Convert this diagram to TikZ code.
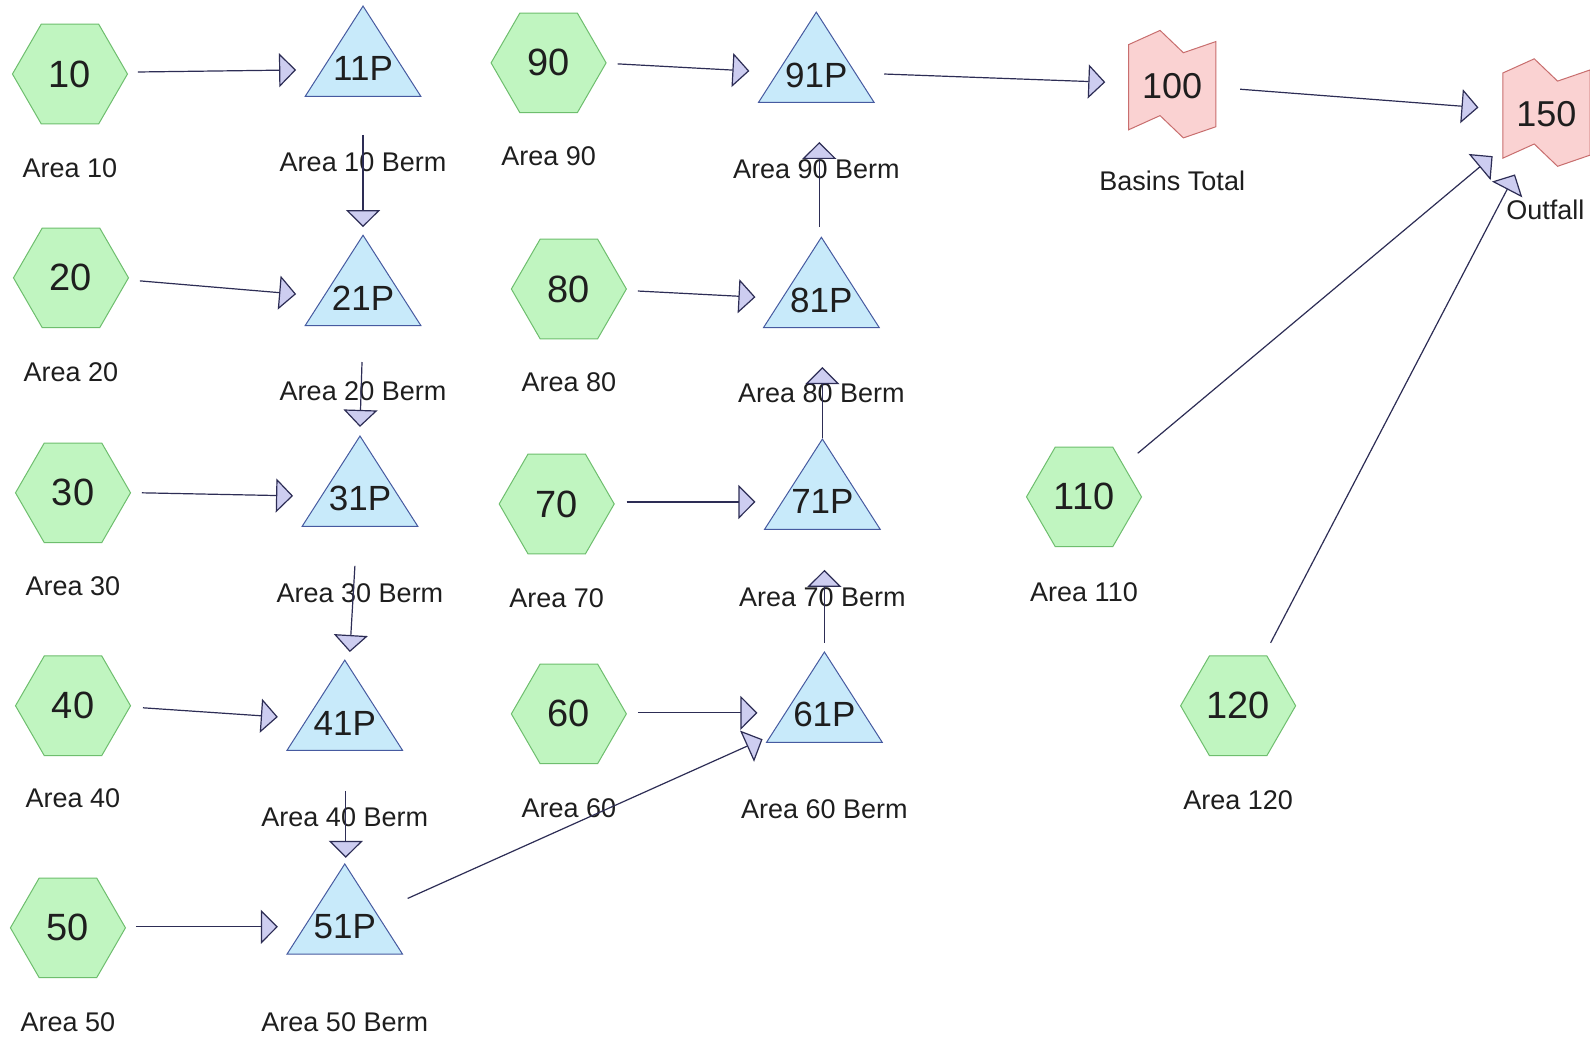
\documentclass[tikz,border=0pt]{standalone}
\usepackage{fontspec}
\setmainfont{Liberation Sans}
\usetikzlibrary{shapes.geometric,arrows.meta,calc,backgrounds}
\definecolor{hexfill}{RGB}{192,245,192}
\definecolor{hexdraw}{RGB}{110,190,110}
\definecolor{trifill}{RGB}{200,234,250}
\definecolor{tridraw}{RGB}{70,90,160}
\definecolor{flagfill}{RGB}{250,210,210}
\definecolor{flagdraw}{RGB}{200,110,110}
\definecolor{linecol}{RGB}{45,45,85}
\definecolor{headfill}{RGB}{205,205,240}
\definecolor{txtcol}{RGB}{30,30,30}
\tikzset{
  hexnode/.style={regular polygon, regular polygon sides=6, minimum size=115pt, inner sep=0pt,
    draw=hexdraw, fill=hexfill, line width=1pt, text=txtcol, font=\fontsize{38}{40}\selectfont},
  numtxt/.style={inner sep=0pt, text=txtcol, font=\fontsize{35}{38}\selectfont},
  lbl/.style={inner sep=0pt, text=txtcol, font=\fontsize{27}{30}\selectfont},
  trishape/.style={draw=tridraw, fill=trifill, line width=1pt, line join=miter},
  flagshape/.style={draw=flagdraw, fill=flagfill, line width=1pt},
  flow/.style={draw=linecol, line width=1.2pt, -{Triangle[length=17pt, width=34pt, fill=headfill]}}
}
\begin{document}
\begin{tikzpicture}[x=1.014pt, y=-1.014pt]
\useasboundingbox (0,0) rectangle (1568,1024);
% hexagon nodes
\node[hexnode] (h10) at (69,73) {10};
\node[hexnode] (h20) at (70,274) {20};
\node[hexnode] (h30) at (72,486) {30};
\node[hexnode] (h40) at (72,696) {40};
\node[hexnode] (h50) at (67,915) {50};
\node[hexnode] (h90) at (541,62) {90};
\node[hexnode] (h80) at (561,285) {80};
\node[hexnode] (h70) at (549,497) {70};
\node[hexnode] (h60) at (561,704) {60};
\node[hexnode] (h110) at (1069,490) {110};
\node[hexnode] (h120) at (1221,696) {120};
% triangle (pond) nodes
\node[numtxt] (t11) at (358,68) {11P};
\node[numtxt] (t21) at (358,294) {21P};
\node[numtxt] (t31) at (355,492) {31P};
\node[numtxt] (t41) at (340,713) {41P};
\node[numtxt] (t51) at (340,914) {51P};
\node[numtxt] (t91) at (805,74) {91P};
\node[numtxt] (t81) at (810,296) {81P};
\node[numtxt] (t71) at (811,495) {71P};
\node[numtxt] (t61) at (813,705) {61P};
% flag (link) nodes
\node[numtxt, font=\fontsize{36}{38}\selectfont] (f100) at (1156,85) {100};
\node[numtxt, font=\fontsize{36}{38}\selectfont] (f150) at (1525,113) {150};
% shapes behind the texts
\begin{scope}[on background layer]
\fill[white] (0,0) rectangle (1568,1024);
\foreach \t in {t11,t21,t31,t41,t51,t91,t81,t71,t61}{
  \filldraw[trishape] ($(\t)+(0,-62)$) -- ($(\t)+(57,27)$) -- ($(\t)+(-57,27)$) -- cycle;
}
\foreach \f in {f100,f150}{
  \filldraw[flagshape] ($(\f)+(-43,-41)$) -- ++(31,-14) -- ++(23,22) -- ++(32,-11) -- ++(0,84)
    -- ++(-32,11) -- ++(-23,-22) -- ++(-31,14) -- cycle;
}
\end{scope}
% labels
\node[lbl] (l10) at (69,166) {Area 10};
\node[lbl] (l20) at (70,367) {Area 20};
\node[lbl] (l30) at (72,578) {Area 30};
\node[lbl] (l40) at (72,787) {Area 40};
\node[lbl] (l50) at (67,1008) {Area 50};
\node[lbl] (l90) at (541,154) {Area 90};
\node[lbl] (l80) at (561,377) {Area 80};
\node[lbl] (l70) at (549,590) {Area 70};
\node[lbl] (l60) at (561,797) {Area 60};
\node[lbl] (l110) at (1069,584) {Area 110};
\node[lbl] (l120) at (1221,789) {Area 120};
\node[lbl] (b10) at (358,160) {Area 10 Berm};
\node[lbl] (b20) at (358,386) {Area 20 Berm};
\node[lbl] (b30) at (355,585) {Area 30 Berm};
\node[lbl] (b40) at (340,806) {Area 40 Berm};
\node[lbl] (b50) at (340,1008) {Area 50 Berm};
\node[lbl] (b90) at (805,167) {Area 90 Berm};
\node[lbl] (b80) at (810,388) {Area 80 Berm};
\node[lbl] (b70) at (811,589) {Area 70 Berm};
\node[lbl] (b60) at (813,798) {Area 60 Berm};
\node[lbl] (lb100) at (1156,178) {Basins Total};
\node[lbl] (lb150) at (1524,207) {Outfall};
% connectors
\draw[flow] ($(h10)+(67,-2)$) -- ($(t11)+(-66,1)$);
\draw[flow] ($(h20)+(68,3)$) -- ($(t21)+(-66,-4)$);
\draw[flow] ($(h30)+(68,0)$) -- ($(t31)+(-66,-3)$);
\draw[flow] ($(h40)+(69,2)$) -- ($(t41)+(-66,-6)$);
\draw[flow] ($(h50)+(67,-1)$) -- ($(t51)+(-66,0)$);
\draw[flow] ($(h90)+(68,1)$) -- ($(t91)+(-66,-4)$);
\draw[flow] ($(h80)+(68,2)$) -- ($(t81)+(-65,-3)$);
\draw[flow] ($(h70)+(69,-2)$) -- ($(t71)+(-66,0)$);
\draw[flow] ($(h60)+(68,-1)$) -- ($(t61)+(-66,-2)$);
\draw[flow] ($(t51)+(62,-28)$) -- ($(t61)+(-61,24)$);
\draw[flow] ($(t11)+(0,65)$) -- ($(t21)+(0,-70)$);
\draw[flow] ($(t21)+(-1,63)$) -- ($(t31)+(0,-71)$);
\draw[flow] ($(t31)+(-5,66)$) -- ($(t41)+(5,-70)$);
\draw[flow] ($(t41)+(1,67)$) -- ($(t51)+(1,-68)$);
\draw[flow] ($(t61)+(0,-71)$) -- ($(t71)+(2,67)$);
\draw[flow] ($(t71)+(0,-63)$) -- ($(t81)+(1,66)$);
\draw[flow] ($(t81)+(-2,-72)$) -- ($(t91)+(3,66)$);
\draw[flow] ($(t91)+(67,-1)$) -- ($(f100)+(-66,-4)$);
\draw[flow] ($(f100)+(67,3)$) -- ($(f150)+(-67,-7)$);
\draw[flow] ($(h110)+(53,-43)$) -- ($(f150)+(-53,41)$);
\draw[flow] ($(h120)+(32,-62)$) -- ($(f150)+(-31,59)$);
\end{tikzpicture}
\end{document}
